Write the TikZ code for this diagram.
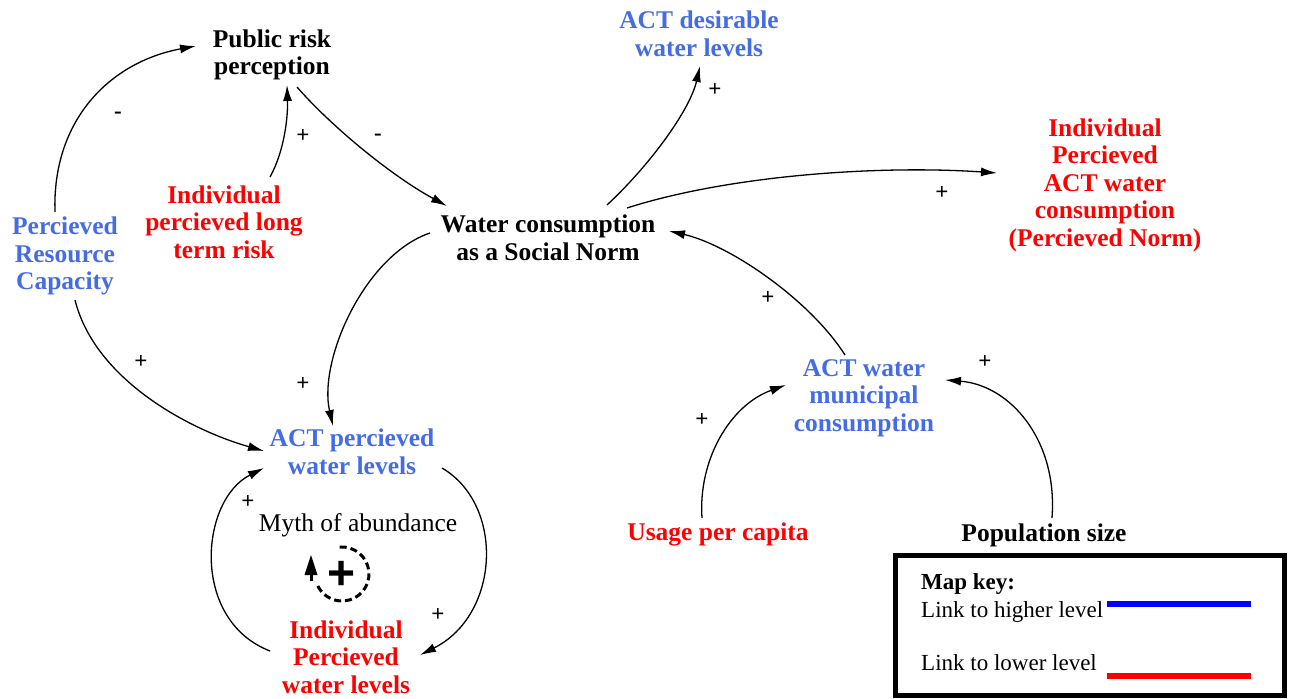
\documentclass[tikz,border=0pt]{standalone}
\usepackage{fontspec}
\setmainfont{Liberation Serif}
\newfontfamily\signfont{Liberation Sans}
\usetikzlibrary{arrows.meta}
\definecolor{lvlblue}{RGB}{68,108,228}
\definecolor{lvlred}{RGB}{255,0,0}
\begin{document}
\begin{tikzpicture}[x=1pt,y=-1pt,
  var/.style={align=center, inner sep=0pt, font=\fontsize{25.5}{27.5}\selectfont\bfseries},
  hi/.style={var, text=lvlblue},
  lo/.style={var, text=lvlred},
  link/.style={-{Latex[length=16pt,width=9pt]}, line width=1.3pt},
  sign/.style={font=\fontsize{23}{23}\selectfont\bfseries, inner sep=0pt},
  keytext/.style={font=\fontsize{23}{23}\selectfont, inner sep=0pt, anchor=base west}]

\useasboundingbox (0,0) rectangle (1291,699);

% variables
\node[var] (prp) at (272,55) {Public risk\\perception};
\node[hi]  (adw) at (699,34) {ACT desirable\\water levels};
\node[lo]  (ipn) at (1105,185) {Individual\\Percieved\\ACT water\\consumption\\(Percieved Norm)};
\node[hi]  (prc) at (65,256) {Percieved\\Resource\\Capacity};
\node[lo]  (ilr) at (224,222) {Individual\\percieved long\\term risk};
\node[var] (wcn) at (548,238) {Water consumption\\as a Social Norm};
\node[hi]  (apw) at (352,452) {ACT percieved\\water levels};
\node[hi]  (amc) at (864,398) {ACT water\\municipal\\consumption};
\node[lo]  (upc) at (718,534) {Usage per capita};
\node[var] (pop) at (1044,535) {Population size};
\node[lo]  (ipw) at (346,657) {Individual\\Percieved\\water levels};

% causal links
\draw[link] ([shift={(-10,-44)}]prc.center) .. controls (52,120) and (110,62) .. ([shift={(-76,-9)}]prp.center);
\node[sign] (s1) at (118,115) {-};
\draw[link] ([shift={(46,-45)}]ilr.center) .. controls (285,150) and (288,115) .. ([shift={(15,30)}]prp.center);
\node[sign] (s2) at (303,136) {+};
\draw[link] ([shift={(25,32)}]prp.center) .. controls (330,125) and (390,175) .. ([shift={(-101,-32)}]wcn.center);
\node[sign] (s3) at (378,137) {-};
\draw[link] ([shift={(59,-33)}]wcn.center) .. controls (650,165) and (690,110) .. ([shift={(1,32)}]adw.center);
\node[sign] (s4) at (715,90) {+};
\draw[link] ([shift={(79,-30)}]wcn.center) .. controls (730,175) and (880,165) .. ([shift={(-108,-12)}]ipn.center);
\node[sign] (s5) at (942,193) {+};
\draw[link] ([shift={(-118,-5)}]wcn.center) .. controls (365,255) and (318,360) .. ([shift={(-19,-26)}]apw.center);
\node[sign] (s6) at (303,384) {+};
\draw[link] ([shift={(-19,-43)}]amc.center) .. controls (810,300) and (730,245) .. ([shift={(121,-7)}]wcn.center);
\node[sign] (s7) at (768,298) {+};
\draw[link] ([shift={(-16,-16)}]upc.center) .. controls (698,460) and (730,405) .. ([shift={(-78,-13)}]amc.center);
\node[sign] (s8) at (702,420) {+};
\draw[link] ([shift={(8,-17)}]pop.center) .. controls (1058,440) and (1010,385) .. ([shift={(81,-18)}]amc.center);
\node[sign] (s9) at (985,362) {+};
\draw[link] ([shift={(10,44)}]prc.center) .. controls (95,380) and (190,430) .. ([shift={(-88,-1)}]apw.center);
\node[sign] (s10) at (141,362) {+};
\draw[link] ([shift={(90,16)}]apw.center) .. controls (505,505) and (500,615) .. ([shift={(74,-2)}]ipw.center);
\node[sign] (s11) at (438,615) {+};
\draw[link] ([shift={(-76,-6)}]ipw.center) .. controls (190,620) and (200,500) .. ([shift={(-88,16)}]apw.center);
\node[sign] (s12) at (248,502) {+};

% reinforcing loop marker
\node[font=\fontsize{25.5}{27.5}\selectfont, inner sep=0pt] (myth) at (358,525) {Myth of abundance};
\coordinate (loop) at (342,574);
\draw[line width=3pt, dash pattern=on 7pt off 4pt] ([shift={(95:27pt)}]loop) arc[start angle=95, end angle=-160, radius=27pt];
\draw[line width=3pt] ([shift={(-31,7)}]loop) -- ([shift={(-31,-2)}]loop);
\fill ([shift={(-31,-19)}]loop) -- ([shift={(-37.5,1)}]loop) -- ([shift={(-24.5,1)}]loop) -- cycle;
\node[font=\signfont\fontsize{48}{48}\selectfont\bfseries, inner sep=0pt] (plus) at (342,575) {+};

% map key
\node[draw, line width=5pt, minimum width=389pt, minimum height=140pt, inner sep=0pt] (key) at (1090,625.5) {};
\node[keytext, font=\fontsize{23}{23}\selectfont\bfseries] (k0) at (921,589) {Map key:};
\node[keytext] (k1) at (921,617) {Link to higher level};
\node[keytext] (k2) at (921,670) {Link to lower level};
\coordinate (hb1) at (1107,603.5);
\coordinate (hb2) at (1251,603.5);
\coordinate (lb1) at (1107,676);
\coordinate (lb2) at (1251,676);
\draw[line width=6pt, blue] (hb1) -- (hb2);
\draw[line width=6pt, red] (lb1) -- (lb2);
\end{tikzpicture}
\end{document}
